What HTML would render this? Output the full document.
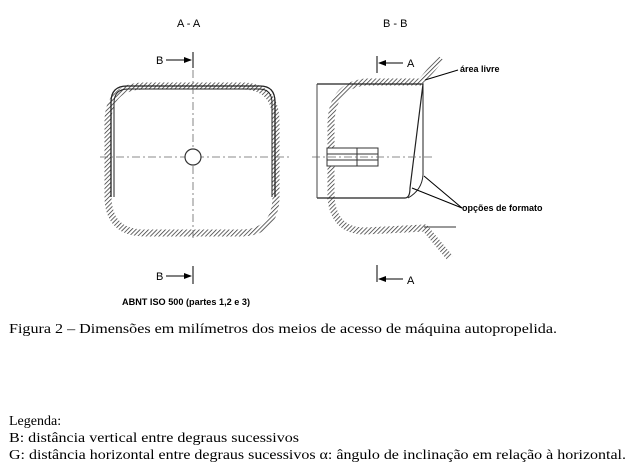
<!DOCTYPE html>
<html><head><meta charset="utf-8"><style>
html,body{margin:0;padding:0;background:#fff;}
svg{display:block;}
.s{font-family:"Liberation Serif","Times New Roman",serif;font-size:14px;fill:#000;}
.a{font-family:"Liberation Sans",sans-serif;fill:#000;}
</style></head><body>
<svg width="640" height="474" viewBox="0 0 640 474" xmlns="http://www.w3.org/2000/svg">
<defs>
<pattern id="h" width="3" height="3" patternUnits="userSpaceOnUse" patternTransform="rotate(45)">
<rect width="3" height="3" fill="#fff"/><line x1="0" y1="0" x2="0" y2="3" stroke="#333" stroke-width="1.5"/>
</pattern>
<marker id="ar" markerWidth="8" markerHeight="6" refX="7" refY="3" orient="auto"><path d="M0,0 L8,3 L0,6 z" fill="#000"/></marker>
</defs>
<text class="a" x="177" y="27" font-size="11">A - A</text>
<text class="a" x="383" y="27" font-size="11">B - B</text>

<!-- Left figure -->
<path d="M108,122 Q108,86 145,86 L242,86 Q276,86 276,122 L276,196 Q276,233 240,233 L145,233 Q108,233 108,196 Z" fill="none" stroke="url(#h)" stroke-width="7"/>
<path d="M111,197 L111,102 Q111,86 127,86 L260,86 Q275,86 275,102 L275,197" fill="none" stroke="#222" stroke-width="1.3"/>
<path d="M114,197 L114,103 Q114,89 128,89 L259,89 Q272,89 272,103 L272,197" fill="none" stroke="#222" stroke-width="1"/>
<line x1="100" y1="157" x2="292" y2="157" stroke="#666" stroke-width="0.8" stroke-dasharray="8,3,2,3"/>
<line x1="193" y1="70" x2="193" y2="240" stroke="#666" stroke-width="0.8" stroke-dasharray="8,3,2,3"/>
<circle cx="193" cy="157" r="8" fill="#fff" stroke="#333" stroke-width="1.2"/>
<line x1="193" y1="52" x2="193" y2="68" stroke="#000" stroke-width="1"/>
<line x1="166" y1="60" x2="191" y2="60" stroke="#000" stroke-width="1" marker-end="url(#ar)"/>
<text class="a" x="156" y="64" font-size="11">B</text>
<line x1="193" y1="266" x2="193" y2="284" stroke="#000" stroke-width="1"/>
<line x1="166" y1="276" x2="191" y2="276" stroke="#000" stroke-width="1" marker-end="url(#ar)"/>
<text class="a" x="156" y="280" font-size="11">B</text>

<!-- Right figure -->
<path d="M421,82 L365,82 Q331,86 331,125 L331,198 Q334,231 365,231 L425,228 L450,258" fill="none" stroke="url(#h)" stroke-width="7"/>
<line x1="421" y1="82" x2="441" y2="58" stroke="url(#h)" stroke-width="7"/>
<line x1="424" y1="227" x2="456" y2="227" stroke="#333" stroke-width="1"/>
<path d="M317,84 L423,84 L410,188 Q410,198 405,198 L317,198" fill="none" stroke="#222" stroke-width="1.2"/>
<line x1="317" y1="84" x2="317" y2="198" stroke="#444" stroke-width="1"/>
<path d="M423,85 L423,175 Q422,190 408,198" fill="none" stroke="#222" stroke-width="1"/>
<rect x="327" y="148" width="51" height="18" fill="#fff" stroke="#333" stroke-width="1"/>
<line x1="327" y1="154" x2="378" y2="154" stroke="#333" stroke-width="1"/>
<line x1="327" y1="160" x2="378" y2="160" stroke="#333" stroke-width="1"/>
<line x1="357" y1="148" x2="357" y2="166" stroke="#333" stroke-width="1"/>
<line x1="312" y1="157" x2="433" y2="157" stroke="#666" stroke-width="0.8" stroke-dasharray="8,3,2,3"/>
<line x1="377" y1="56" x2="377" y2="73" stroke="#000" stroke-width="1"/>
<line x1="403" y1="63" x2="379" y2="63" stroke="#000" stroke-width="1" marker-end="url(#ar)"/>
<text class="a" x="407" y="67" font-size="11">A</text>
<line x1="377" y1="265" x2="377" y2="282" stroke="#000" stroke-width="1"/>
<line x1="403" y1="279" x2="379" y2="279" stroke="#000" stroke-width="1" marker-end="url(#ar)"/>
<text class="a" x="407" y="284" font-size="11">A</text>
<line x1="458" y1="70" x2="425" y2="80" stroke="#000" stroke-width="1"/>
<text class="a" x="460" y="72" font-size="9" font-weight="bold">área livre</text>
<line x1="462" y1="208" x2="424" y2="176" stroke="#000" stroke-width="1"/>
<line x1="462" y1="208" x2="412" y2="188" stroke="#000" stroke-width="1"/>
<text class="a" x="462" y="211" font-size="9" font-weight="bold">opções de formato</text>

<text class="a" x="122" y="305" font-size="9" font-weight="bold" textLength="128" lengthAdjust="spacingAndGlyphs">ABNT ISO 500 (partes 1,2 e 3)</text>
<text class="s" x="9" y="333" textLength="548" lengthAdjust="spacingAndGlyphs">Figura 2 – Dimensões em milímetros dos meios de acesso de máquina autopropelida.</text>
<text class="s" x="9" y="425">Legenda:</text>
<text class="s" x="9" y="442" textLength="290" lengthAdjust="spacingAndGlyphs">B: distância vertical entre degraus sucessivos</text>
<text class="s" x="9" y="459" textLength="617" lengthAdjust="spacingAndGlyphs">G: distância horizontal entre degraus sucessivos α: ângulo de inclinação em relação à horizontal.</text>
</svg>
</body></html>
